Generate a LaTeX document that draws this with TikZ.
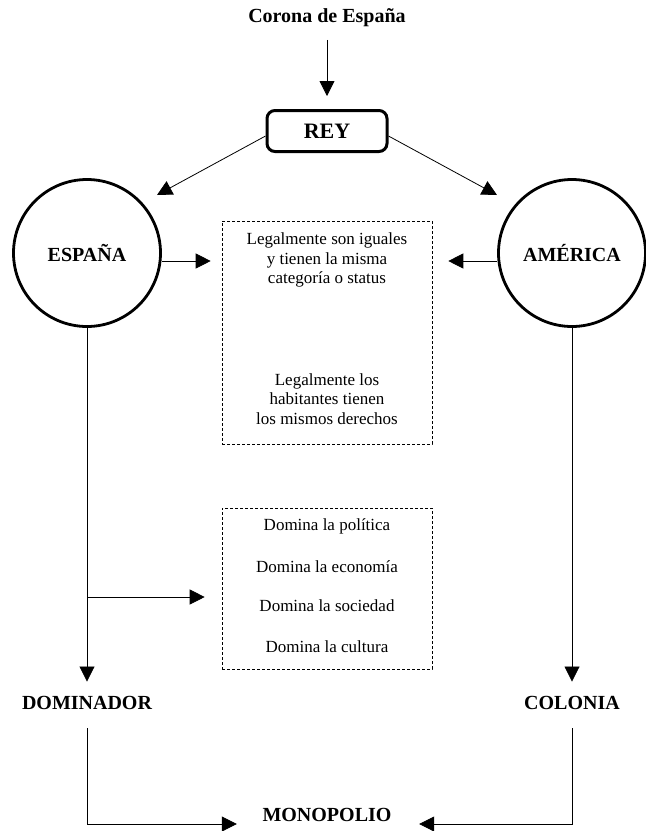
\documentclass[tikz,border=0pt]{standalone}
\usepackage{fontspec}
\setmainfont{Liberation Serif}
\usetikzlibrary{shapes, positioning, arrows.meta}

\begin{document}
\begin{tikzpicture}[x=1pt, y=-1pt, line width=0.8pt,
    tri/.style={-{Triangle[width=15pt,length=15pt]}},
    bold/.style={font=\fontsize{20}{24}\selectfont\bfseries},
    txt/.style={font=\fontsize{17}{19.5}\selectfont, align=center},
    dbox/.style={draw, densely dashed, line width=0.6pt, minimum width=210pt}];

\useasboundingbox (0,0) rectangle (646,831);

% top

\node[bold] (corona) at (327,18) {Corona de España};
\node[draw, rounded corners=8pt, line width=3pt, minimum width=120pt, minimum height=41pt, font=\fontsize{22}{26}\selectfont\bfseries] (rey) at (327,131) {REY};

% circles

\node[draw, circle, line width=2.8pt, minimum size=147pt, bold] (espana) at (87,253) {ESPAÑA};
\node[draw, circle, line width=2.8pt, minimum size=147pt, bold] (america) at (572,253) {AMÉRICA};

% dashed boxes

\node[dbox, minimum height=223pt] (box1) at (327,332.5) {};
\node[txt] (iguales) at (327,260) {Legalmente son iguales\\y tienen la misma\\categoría o status};
\node[txt] (derechos) at (327,399) {Legalmente los\\habitantes tienen\\los mismos derechos};

\node[dbox, minimum height=161pt] (box2) at (327,588.5) {};
\node[txt] (politica) at (327,526) {Domina la política};
\node[txt] (economia) at (327,567) {Domina la economía};
\node[txt] (sociedad) at (327,606) {Domina la sociedad};
\node[txt] (cultura) at (327,647) {Domina la cultura};

% bottom line

\node[bold] (dominador) at (87,703) {DOMINADOR};
\node[bold] (colonia) at (572,703) {COLONIA};
\node[bold] (monopolio) at (327,815) {MONOPOLIO};

% arrows

\draw[tri, shorten <=9pt, shorten >=13pt] (corona) -- (rey);
\coordinate (espanatip) at (157,195);
\coordinate (americatip) at (497,195);
\draw[tri] ([yshift=-5pt]rey.west) -- (espanatip);
\draw[tri] ([yshift=-5pt]rey.east) -- (americatip);

\draw[tri, shorten >=11pt] ([yshift=-8pt]espana.east) -- ([yshift=-8pt]espana.east -| box1.west);
\draw[tri, shorten >=16pt] ([yshift=-8pt]america.west) -- ([yshift=-8pt]america.west -| box1.east);

\draw[tri, shorten >=11pt] (espana.south) -- (dominador.north);
\coordinate (branch) at (87,597);
\draw[tri, shorten >=17pt] (branch) -- (branch -| box2.west);
\draw[tri, shorten >=11pt] (america.south) -- (colonia.north);

\draw[tri, shorten <=15pt, shorten >=22pt] (dominador.south) |- ([yshift=-9pt]monopolio.west);
\draw[tri, shorten <=15pt, shorten >=24pt] (colonia.south) |- ([yshift=-9pt]monopolio.east);

\end{tikzpicture}
\end{document}
